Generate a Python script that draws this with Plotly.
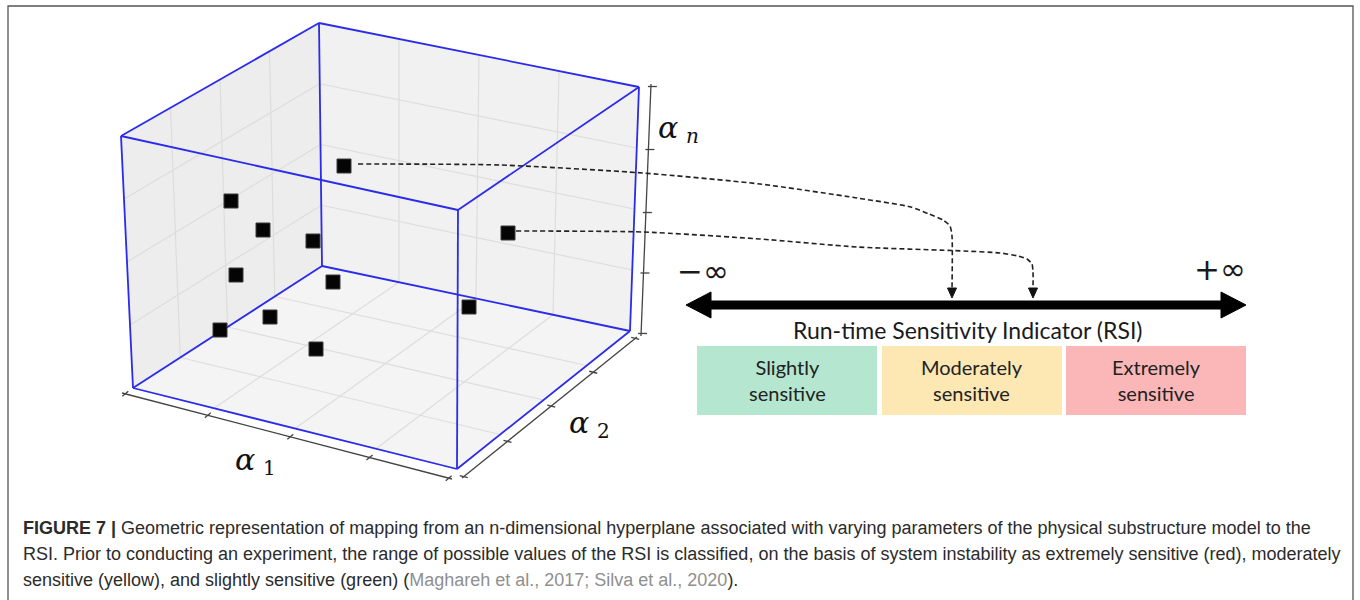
import plotly.graph_objects as go

W, H = 1360, 600

# ---------------- data ----------------
# cube corners, in the order FTL, BTL, BTR, FTR, FBL, BBL, BBR, FBR
corner_names = ["FTL", "BTL", "BTR", "FTR", "FBL", "BBL", "BBR", "FBR"]
corner_x = [121, 319, 639, 458, 133, 322, 630, 457]
corner_y = [136, 23, 87, 210, 388, 266, 331, 469]

grid_fracs = [0.25, 0.5, 0.75]
tick_fracs = [0.01, 0.26, 0.51, 0.75, 0.99]

# sampled parameter sets (black cubes)
point_x = [344, 231, 263, 313, 236, 333, 220, 270, 316, 508, 469]
point_y = [166, 201, 230, 241, 275, 282, 330, 317, 349, 233, 307]

# axes (start x, start y, end x, end y)
axis_names = ["a1", "a2", "an"]
axis_x0 = [122, 462, 651]
axis_y0 = [393, 478, 84]
axis_x1 = [452, 637, 641]
axis_y1 = [479, 337, 336]
tick_dx = [3.0, 4.0, 3.0]
tick_dy = [-2.5, 1.0, 0.0]

axis_label_x = [245, 579, 668]
axis_label_y = [459, 422, 127]
axis_sub = ["1", "2", "<i>n</i>"]

# dashed links from two parameter sets to the RSI line
link1_x = [358, 500, 643, 760, 857, 911, 929, 943, 950, 952, 952]
link1_y = [164, 165, 173, 184, 198, 207, 214, 220, 226, 236, 290]
link2_x = [516, 643, 760, 857, 964, 1000, 1018, 1027, 1032, 1033, 1033]
link2_y = [231, 232, 239, 247, 251, 253, 256, 259, 264, 272, 290]
link_tip_y = 298

# RSI line
rsi_x0, rsi_x1, rsi_y = 686, 1246, 305

# categories
cat_labels = ["Slightly<br>sensitive", "Moderately<br>sensitive", "Extremely<br>sensitive"]
cat_x0 = [697, 882, 1066]
cat_x1 = [877, 1062, 1246]
cat_y0, cat_y1 = 346, 415
cat_colors = ["#b4e6d0", "#fde7b3", "#fbb7b7"]

caption_lines = [
    "<b>FIGURE 7 |</b> Geometric representation of mapping from an n-dimensional hyperplane associated with varying parameters of the physical substructure model to the",
    "RSI. Prior to conducting an experiment, the range of possible values of the RSI is classified, on the basis of system instability as extremely sensitive (red), moderately",
    "sensitive (yellow), and slightly sensitive (green) (<span style='color:#8f8f8f'>Maghareh et al., 2017; Silva et al., 2020</span>).",
]
caption_y = [528, 554, 580]

# ---------------- helpers ----------------
C = {n: (x, y) for n, x, y in zip(corner_names, corner_x, corner_y)}


def lerp(a, b, t):
    return (a[0] + (b[0] - a[0]) * t, a[1] + (b[1] - a[1]) * t)


def segs(pairs):
    xs, ys = [], []
    for p, q in pairs:
        xs += [p[0], q[0], None]
        ys += [p[1], q[1], None]
    return xs, ys


fig = go.Figure()

# panes
panes = [
    (["FTL", "BTL", "BBL", "FBL"], "#ededed"),
    (["BTL", "BTR", "BBR", "BBL"], "#f1f1f1"),
    (["FBL", "BBL", "BBR", "FBR"], "#f4f4f4"),
]
for names, col in panes:
    xs = [C[n][0] for n in names] + [C[names[0]][0]]
    ys = [C[n][1] for n in names] + [C[names[0]][1]]
    fig.add_trace(go.Scatter(x=xs, y=ys, fill="toself", fillcolor=col, mode="none",
                             hoverinfo="skip", showlegend=False))

# grid lines
pairs = []
for t in grid_fracs:
    pairs.append((lerp(C["FTL"], C["BTL"], t), lerp(C["FBL"], C["BBL"], t)))
    pairs.append((lerp(C["FBL"], C["FTL"], t), lerp(C["BBL"], C["BTL"], t)))
    pairs.append((lerp(C["BTL"], C["BTR"], t), lerp(C["BBL"], C["BBR"], t)))
    pairs.append((lerp(C["BBL"], C["BTL"], t), lerp(C["BBR"], C["BTR"], t)))
    pairs.append((lerp(C["FBL"], C["FBR"], t), lerp(C["BBL"], C["BBR"], t)))
    pairs.append((lerp(C["FBL"], C["BBL"], t), lerp(C["FBR"], C["BBR"], t)))
gx, gy = segs(pairs)
fig.add_trace(go.Scatter(x=gx, y=gy, mode="lines", line=dict(color="#dddddd", width=1.2),
                         hoverinfo="skip", showlegend=False))

# axes with ticks
pairs = []
for i in range(3):
    a = (axis_x0[i], axis_y0[i])
    b = (axis_x1[i], axis_y1[i])
    pairs.append((a, b))
    for f in tick_fracs:
        p = lerp(a, b, f)
        if axis_names[i] == "an":
            pairs.append(((p[0] - 3, p[1]), (p[0] + 6, p[1])))
        else:
            pairs.append(((p[0] - tick_dx[i], p[1] - tick_dy[i]), (p[0] + tick_dx[i], p[1] + tick_dy[i])))
ax_x, ax_y = segs(pairs)
fig.add_trace(go.Scatter(x=ax_x, y=ax_y, mode="lines", line=dict(color="#444444", width=1.3),
                         hoverinfo="skip", showlegend=False))

# blue cube edges
edges = [("FTL", "FTR"), ("FTR", "FBR"), ("FBR", "FBL"), ("FBL", "FTL"),
         ("BTL", "BTR"), ("BTR", "BBR"), ("BBR", "BBL"), ("BBL", "BTL"),
         ("FTL", "BTL"), ("FTR", "BTR"), ("FBR", "BBR"), ("FBL", "BBL")]
ex, ey = segs([(C[a], C[b]) for a, b in edges])
fig.add_trace(go.Scatter(x=ex, y=ey, mode="lines", line=dict(color="#2b2bea", width=1.8),
                         hoverinfo="skip", showlegend=False))

# dashed links
for lx, ly in [(link1_x, link1_y), (link2_x, link2_y)]:
    fig.add_trace(go.Scatter(x=lx, y=ly, mode="lines",
                             line=dict(color="#222222", width=1.6, dash="5px,3px", shape="spline", smoothing=0.6),
                             hoverinfo="skip", showlegend=False))
    tx = lx[-1]
    fig.add_trace(go.Scatter(x=[tx - 4.5, tx + 4.5, tx, tx - 4.5], y=[link_tip_y - 10, link_tip_y - 10, link_tip_y, link_tip_y - 10],
                             mode="lines", fill="toself", fillcolor="#111111", line=dict(color="#111111", width=1),
                             hoverinfo="skip", showlegend=False))

# points
fig.add_trace(go.Scatter(x=point_x, y=point_y, mode="markers",
                         marker=dict(symbol="square", size=14, color="#050505",
                                     line=dict(color="#3a3a3a", width=1)),
                         hoverinfo="skip", showlegend=False))

# RSI double arrow
fig.add_trace(go.Scatter(x=[rsi_x0 + 20, rsi_x1 - 20], y=[rsi_y, rsi_y], mode="lines",
                         line=dict(color="black", width=9), hoverinfo="skip", showlegend=False))
for tip, d in [(rsi_x0, 1), (rsi_x1, -1)]:
    fig.add_trace(go.Scatter(x=[tip, tip + 25 * d, tip + 25 * d, tip], y=[rsi_y, rsi_y - 13, rsi_y + 13, rsi_y],
                             mode="lines", fill="toself", fillcolor="black", line=dict(color="black", width=1),
                             hoverinfo="skip", showlegend=False))

# category boxes
for x0, x1, col, lab in zip(cat_x0, cat_x1, cat_colors, cat_labels):
    fig.add_shape(type="rect", xref="x", yref="y", x0=x0, x1=x1, y0=cat_y0, y1=cat_y1,
                  fillcolor=col, line=dict(width=0), layer="below")
    fig.add_annotation(x=(x0 + x1) / 2, y=(cat_y0 + cat_y1) / 2 - 1, text=lab, showarrow=False,
                       font=dict(family="Lato", size=20, color="#222222"), align="center")

fig.add_annotation(x=(rsi_x0 + rsi_x1) / 2 + 1, y=330, text="Run-time Sensitivity Indicator (RSI)", showarrow=False,
                   font=dict(family="Lato", size=23, color="#1a1a1a"))
fig.add_annotation(x=703, y=271, text="\u2212\u221e", showarrow=False,
                   font=dict(family="DejaVu Sans", size=31, color="#1a1a1a"))
fig.add_annotation(x=1220, y=269, text="+\u221e", showarrow=False,
                   font=dict(family="DejaVu Sans", size=31, color="#1a1a1a"))

# axis labels
for lx, ly, sub in zip(axis_label_x, axis_label_y, axis_sub):
    fig.add_annotation(x=lx, y=ly, text="<i>\u03b1</i>", showarrow=False,
                       font=dict(family="DejaVu Serif", size=30, color="#111111"))
    fig.add_annotation(x=lx + 24, y=ly + 9, text=sub, showarrow=False,
                       font=dict(family="DejaVu Serif", size=20, color="#111111"))

# caption
for txt, cy in zip(caption_lines, caption_y):
    fig.add_annotation(x=21, y=cy, text=txt, showarrow=False, xanchor="left", yanchor="middle",
                       font=dict(family="Liberation Sans", size=18, color="#2b2b2b"))

# frame
fig.add_shape(type="rect", xref="x", yref="y", x0=8, x1=1353, y0=6, y1=610,
              line=dict(color="#555555", width=1.3), layer="above")

fig.update_layout(
    width=W, height=H, margin=dict(l=0, r=0, t=0, b=0),
    paper_bgcolor="white", plot_bgcolor="white",
    xaxis=dict(range=[0, W], visible=False, fixedrange=True),
    yaxis=dict(range=[H, 0], visible=False, fixedrange=True),
    showlegend=False,
)

fig.write_html("out.html", config={"displayModeBar": False},
               post_script="document.body.style.margin='0px';document.body.style.overflow='hidden';")
